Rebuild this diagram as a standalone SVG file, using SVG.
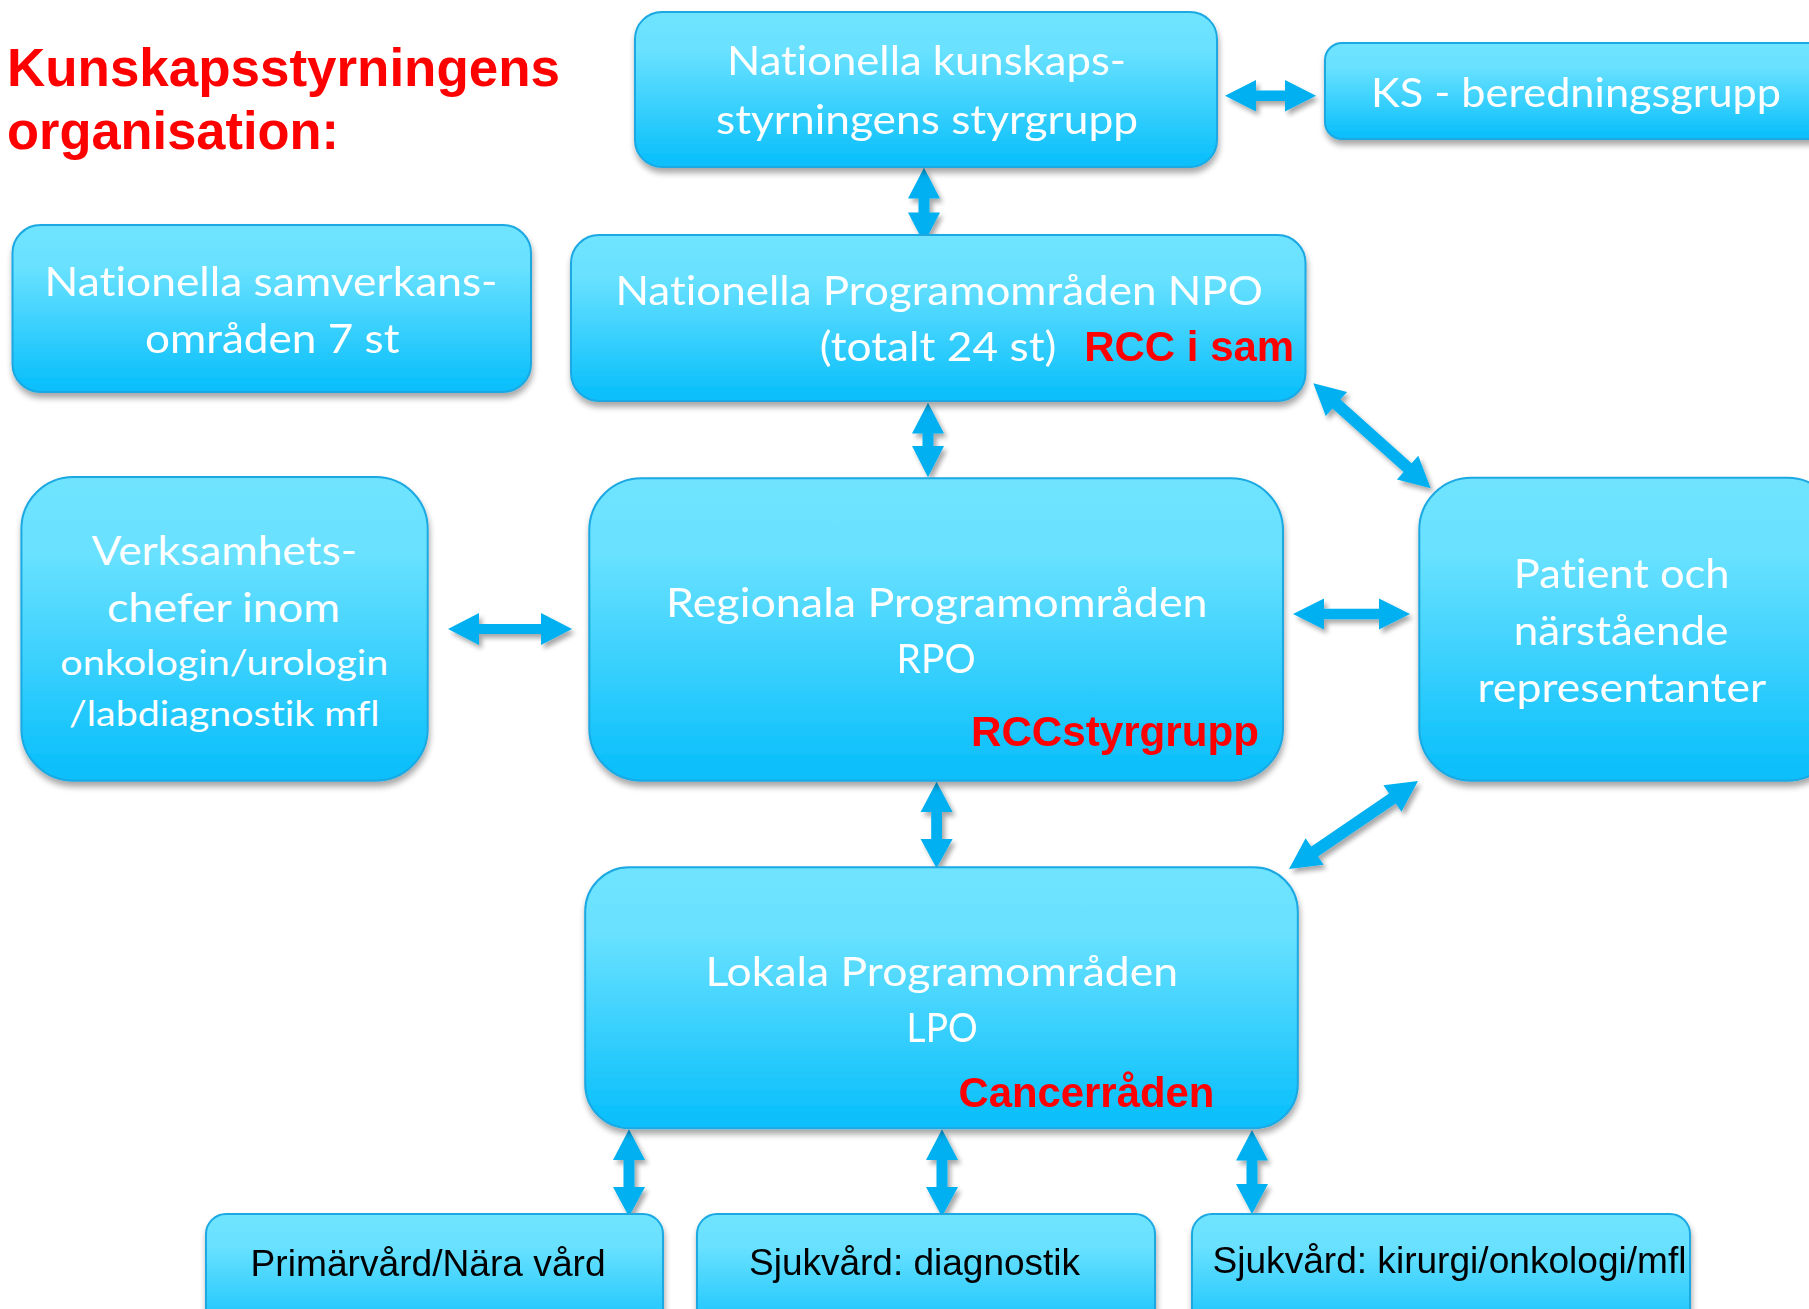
<svg xmlns="http://www.w3.org/2000/svg" width="1809" height="1309" viewBox="0 0 1809 1309">
<defs>
<linearGradient id="g" x1="0" y1="0" x2="0" y2="1">
<stop offset="0" stop-color="#6FE4FF"/>
<stop offset="0.25" stop-color="#69E1FF"/>
<stop offset="1" stop-color="#06BEFB"/>
</linearGradient>
<filter id="sh" x="-10%" y="-10%" width="120%" height="130%">
<feGaussianBlur in="SourceAlpha" stdDeviation="3"/>
<feOffset dx="1" dy="5" result="o"/>
<feComponentTransfer><feFuncA type="linear" slope="0.35"/></feComponentTransfer>
<feMerge><feMergeNode/><feMergeNode in="SourceGraphic"/></feMerge>
</filter>
<filter id="ash" x="-20%" y="-20%" width="140%" height="140%">
<feGaussianBlur in="SourceAlpha" stdDeviation="2.5"/>
<feOffset dx="3" dy="4"/>
<feComponentTransfer><feFuncA type="linear" slope="0.35"/></feComponentTransfer>
<feMerge><feMergeNode/><feMergeNode in="SourceGraphic"/></feMerge>
</filter>
</defs>
<style>
.box{fill:url(#g);stroke:#1AA8E2;stroke-width:2;filter:url(#sh)}
.w{font-family:Lato,"Open Sans",sans-serif;font-size:40px;fill:#FFFFFF;font-variant-ligatures:none;font-feature-settings:"liga" 0}
.ws{font-size:35px}
.red{font-family:"Liberation Sans",Arial,sans-serif;font-weight:bold;font-size:42px;fill:#FF0000}
.blk{font-family:"Liberation Sans",Arial,sans-serif;font-size:37px;fill:#000000}
.title{font-family:"Liberation Sans",Arial,sans-serif;font-weight:bold;font-size:53px;fill:#FF0000}
.arr{fill:#00B0F0}
</style>
<rect width="1809" height="1309" fill="#FFFFFF"/>

<g id="title">
<text class="title" x="7" y="86" textLength="553" lengthAdjust="spacingAndGlyphs">Kunskapsstyrningens</text>
<text class="title" x="7" y="149" textLength="332" lengthAdjust="spacingAndGlyphs">organisation:</text>
</g>

<g id="connectors" filter="url(#ash)">
<polygon class="arr" points="1225,95.7 1256,80 1256,90.4 1285,90.4 1285,80 1316,95.7 1285,111.4 1285,101 1256,101 1256,111.4"/>
<polygon class="arr" points="924,167.7 940,198.5 929.5,198.5 929.5,212.5 940,212.5 924,243.3 908,212.5 918.5,212.5 918.5,198.5 908,198.5"/>
<polygon class="arr" points="928,402.7 944,433.5 933.5,433.5 933.5,446 944,446 928,477.3 912,446 922.5,446 922.5,433.5 912,433.5"/>
<polygon class="arr" points="936.6,781.7 952.6,812 942,812 942,839 952.6,839 936.6,868.3 920.6,839 931.2,839 931.2,812 920.6,812"/>
<polygon class="arr" points="448,629 479,613 479,624 541,624 541,613 572,629 541,645 541,634 479,634 479,645"/>
<polygon class="arr" points="1293,614 1324,598.5 1324,608.8 1379,608.8 1379,598.5 1410,614 1379,629.5 1379,619.2 1324,619.2 1324,629.5"/>
<g transform="translate(1313.3,383.3) rotate(41.8)">
<polygon class="arr" points="0,0 31,-16 31,-6 126.5,-6 126.5,-16 157.5,0 126.5,16 126.5,6 31,6 31,16"/>
</g>
<g transform="translate(1289,869) rotate(-34.3)">
<polygon class="arr" points="0,0 31,-16 31,-6 125.2,-6 125.2,-16 156.2,0 125.2,16 125.2,6 31,6 31,16"/>
</g>
<polygon class="arr" points="629,1129.3 645,1160 634.5,1160 634.5,1187 645,1187 629,1216.7 613,1187 623.5,1187 623.5,1160 613,1160"/>
<polygon class="arr" points="942,1129.3 958,1160 947.5,1160 947.5,1187 958,1187 942,1216.7 926,1187 936.5,1187 936.5,1160 926,1160"/>
<polygon class="arr" points="1252,1130 1268,1160.5 1257.5,1160.5 1257.5,1184 1268,1184 1252,1214 1236,1184 1246.5,1184 1246.5,1160.5 1236,1160.5"/>
</g>

<g id="node-styrgrupp">
<rect class="box" x="635" y="12" width="582" height="155" rx="27"/>
<text class="w" x="727" y="75" textLength="399" lengthAdjust="spacingAndGlyphs">Nationella kunskaps-</text>
<text class="w" x="716" y="133.5" textLength="422" lengthAdjust="spacingAndGlyphs">styrningens styrgrupp</text>
</g>

<g id="node-ks">
<rect class="box" x="1325" y="43" width="510" height="96" rx="17"/>
<text class="w" x="1371" y="107" textLength="410" lengthAdjust="spacingAndGlyphs">KS - beredningsgrupp</text>
</g>

<g id="node-samverkan">
<rect class="box" x="12.5" y="225" width="518.5" height="167" rx="28"/>
<text class="w" x="44.6" y="296" textLength="453" lengthAdjust="spacingAndGlyphs">Nationella samverkans-</text>
<text class="w" x="145" y="352.7" textLength="254.5" lengthAdjust="spacingAndGlyphs">områden 7 st</text>
</g>

<g id="node-npo">
<rect class="box" x="571" y="235" width="734.5" height="166" rx="28"/>
<text class="w" x="615.4" y="305" textLength="647.6" lengthAdjust="spacingAndGlyphs">Nationella Programområden NPO</text>
<text class="w" x="819.7" y="360.5" textLength="236.7" lengthAdjust="spacingAndGlyphs">(totalt 24 st)</text>
<text class="red" x="1084.2" y="360.7" textLength="210" lengthAdjust="spacingAndGlyphs">RCC i sam</text>
</g>

<g id="node-verksamhetschefer">
<rect class="box" x="21.4" y="477" width="406.3" height="303.7" rx="52"/>
<text class="w" x="91.5" y="565" textLength="265.5" lengthAdjust="spacingAndGlyphs">Verksamhets-</text>
<text class="w" x="107" y="621.7" textLength="233" lengthAdjust="spacingAndGlyphs">chefer inom</text>
<text class="w ws" x="60.3" y="675" textLength="328" lengthAdjust="spacingAndGlyphs">onkologin/urologin</text>
<text class="w ws" x="69" y="726" textLength="310.5" lengthAdjust="spacingAndGlyphs">/labdiagnostik mfl</text>
</g>

<g id="node-rpo">
<rect class="box" x="589.3" y="478.3" width="693.7" height="302.4" rx="52"/>
<text class="w" x="666" y="616.7" textLength="541.6" lengthAdjust="spacingAndGlyphs">Regionala Programområden</text>
<text class="w" x="896.6" y="673.3" textLength="79" lengthAdjust="spacingAndGlyphs">RPO</text>
<text class="red" x="971" y="746" textLength="288" lengthAdjust="spacingAndGlyphs">RCCstyrgrupp</text>
</g>

<g id="node-patient">
<rect class="box" x="1419.3" y="477.7" width="420" height="303" rx="52"/>
<text class="w" x="1513.8" y="588.3" textLength="215.7" lengthAdjust="spacingAndGlyphs">Patient och</text>
<text class="w" x="1513.8" y="645" textLength="214.6" lengthAdjust="spacingAndGlyphs">närstående</text>
<text class="w" x="1477.5" y="701.7" textLength="288.7" lengthAdjust="spacingAndGlyphs">representanter</text>
</g>

<g id="node-lpo">
<rect class="box" x="585.2" y="867.3" width="712.6" height="261" rx="44"/>
<text class="w" x="705.4" y="986" textLength="472.6" lengthAdjust="spacingAndGlyphs">Lokala Programområden</text>
<text class="w" x="906.6" y="1041.7" textLength="71" lengthAdjust="spacingAndGlyphs">LPO</text>
<text class="red" x="958.4" y="1106.7" textLength="256" lengthAdjust="spacingAndGlyphs">Cancerråden</text>
</g>

<g id="node-primarvard">
<rect class="box" x="206" y="1214" width="457" height="130" rx="20"/>
<text class="blk" x="250.6" y="1276" textLength="355" lengthAdjust="spacingAndGlyphs">Primärvård/Nära vård</text>
</g>

<g id="node-diagnostik">
<rect class="box" x="697" y="1214" width="458" height="130" rx="20"/>
<text class="blk" x="749" y="1275" textLength="331" lengthAdjust="spacingAndGlyphs">Sjukvård: diagnostik</text>
</g>

<g id="node-kirurgi">
<rect class="box" x="1192" y="1214" width="498" height="130" rx="20"/>
<text class="blk" x="1212.5" y="1273" textLength="474" lengthAdjust="spacingAndGlyphs">Sjukvård: kirurgi/onkologi/mfl</text>
</g>
</svg>
